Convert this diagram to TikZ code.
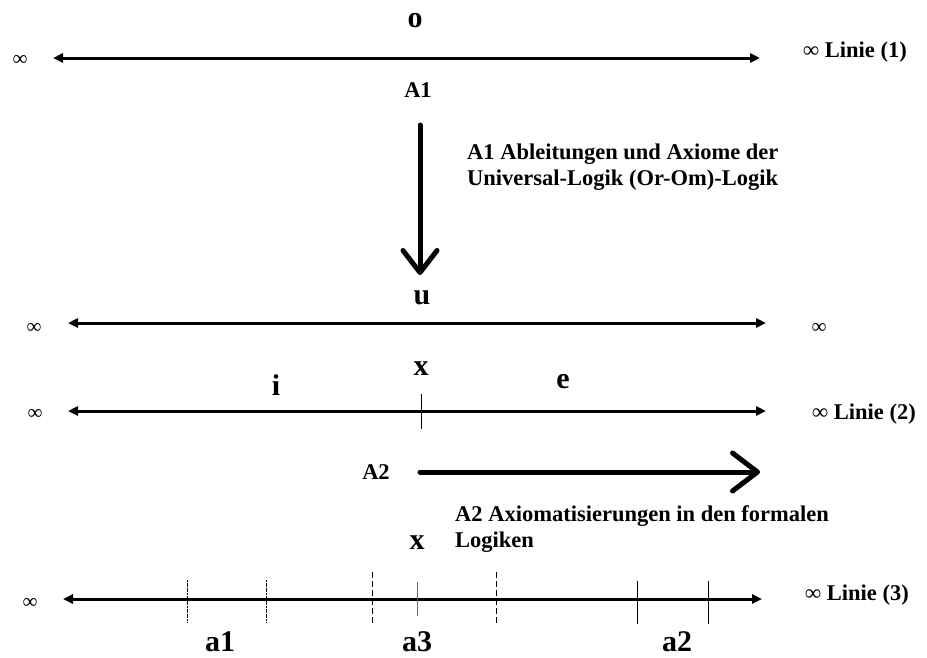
\documentclass[tikz,border=0pt]{standalone}
\usepackage{fontspec}
\setmainfont{Liberation Serif}
\usetikzlibrary{arrows.meta}

\begin{document}
\begin{tikzpicture}[x=1pt,y=-1pt,
  txt/.style={font=\bfseries\fontsize{22.5}{26}\selectfont,inner sep=0pt},
  big/.style={font=\bfseries\fontsize{30}{34}\selectfont,inner sep=0pt},
  inf/.style={font=\fontsize{21}{26}\selectfont,inner sep=0pt},
  axis/.style={line width=3pt,{Triangle[length=10pt,width=9pt]}-{Triangle[length=10pt,width=9pt]}},
  push/.style={line width=5pt,line cap=round,-{Straight Barb[round,length=22pt,width=34pt]}},
  tick/.style={line width=0.9pt}]
\useasboundingbox (0,0) rectangle (927,657);
% --- Linie (1)
\coordinate (l1w) at (53,58);
\coordinate (l1e) at (760,58);
\draw[axis] (l1w) -- (l1e);
\node[big] (o) at (415,21) {o};
\node[inf] (inf1) at (20,60) {∞};
\node[txt,anchor=west] (lin1) at (803,52) {∞ Linie (1)};
\node[txt] (A1) at (418,90) {A1};
% --- A1: down
\coordinate (a1top) at (420,125);
\coordinate (a1bot) at (420,275);
\draw[push] (a1top) -- (a1bot);
\node[txt,anchor=base west,align=left] (A1txt) at (467,185) {A1 Ableitungen und Axiome der\\Universal-Logik (Or-Om)-Logik};
% --- u
\coordinate (luw) at (68,323);
\coordinate (lue) at (766,323);
\draw[axis] (luw) -- (lue);
\node[big] (u) at (422,298) {u};
\node[inf] (infuw) at (34,328) {∞};
\node[inf] (infue) at (819,328) {∞};
% --- Linie (2)
\coordinate (l2w) at (68,411);
\coordinate (l2e) at (766,411);
\draw[axis] (l2w) -- (l2e);
\draw[tick] (421,394) -- (421,429);
\node[big] (x1) at (421,369) {x};
\node[big] (i) at (276,385) {i};
\node[big] (e) at (563,382) {e};
\node[inf] (inf2) at (35,414) {∞};
\node[txt,anchor=west] (lin2) at (812,414) {∞ Linie (2)};
% --- A2: right
\node[txt] (A2) at (376,472) {A2};
\coordinate (a2w) at (420,472);
\coordinate (a2e) at (760,472);
\draw[push,-{Straight Barb[round,length=25pt,width=38pt]}] (a2w) -- (a2e);
\node[txt,anchor=base west,align=left] (A2txt) at (455,547) {A2 Axiomatisierungen in den formalen\\Logiken};
\node[big] (x2) at (417,543) {x};
% --- Linie (3)
\coordinate (l3w) at (63,599);
\coordinate (l3e) at (762,599);
\draw[axis] (l3w) -- (l3e);
\foreach \x in {187,266} {\draw[tick,dash pattern=on 2pt off 0.6pt] (\x,580) -- (\x,623);}
\foreach \x in {372,496} {\draw[tick,dash pattern=on 6pt off 3pt] (\x,572) -- (\x,625);}
\draw[tick,gray!80!black] (417,582) -- (417,616);
\foreach \x in {637,708} {\draw[tick] (\x,581) -- (\x,624);}
\node[inf] (inf3) at (30,603) {∞};
\node[txt,anchor=west] (lin3) at (805,595) {∞ Linie (3)};
\node[big,anchor=base] (a1) at (220,651) {a1};
\node[big,anchor=base] (a3) at (417,651) {a3};
\node[big,anchor=base] (a2) at (677,651) {a2};
\end{tikzpicture}
\end{document}
